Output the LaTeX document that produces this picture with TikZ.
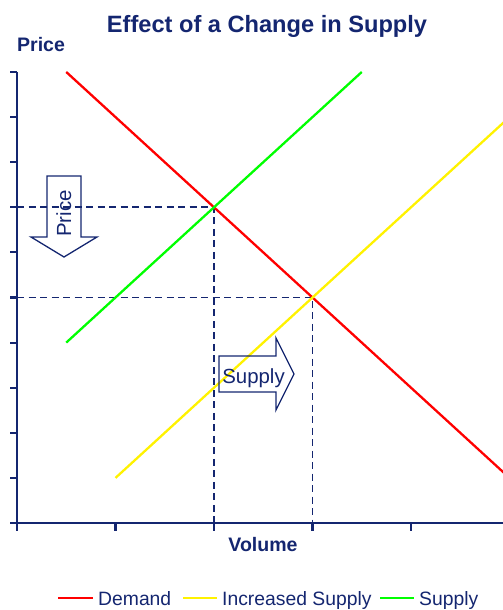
\documentclass[tikz,border=0pt]{standalone}
\usepackage{fontspec}
\setmainfont{Liberation Sans}
\usetikzlibrary{positioning}
\definecolor{navy}{RGB}{20,38,112}
\tikzset{
  axisln/.style={draw=navy, line width=2.4bp},
  tck/.style={draw=navy, line width=2.2bp},
  guide/.style={draw=navy, line width=1.9bp, dash pattern=on 7bp off 4.5bp},
  dem/.style={draw=red, line width=2.3bp},
  sup/.style={draw=green, line width=2.3bp},
  incsup/.style={draw=yellow, line width=2.3bp},
  blk/.style={draw=navy, line width=1.3bp, line join=miter},
  ttl/.style={text=navy, inner sep=0pt, font=\fontsize{23.7}{28}\selectfont\bfseries},
  axlab/.style={text=navy, inner sep=0pt, font=\fontsize{19.6}{24}\selectfont\bfseries},
  leg/.style={text=navy, inner sep=0pt, font=\fontsize{19.4}{24}\selectfont},
  inlab/.style={text=navy, inner sep=0pt, font=\fontsize{20.5}{24}\selectfont},
}
\begin{document}
\begin{tikzpicture}[x=1bp, y=-1bp]
  \useasboundingbox (0,0) rectangle (503,610);
  % plot area: one unit per tick
  \begin{scope}[shift={(17,523)}, x=98.5bp, y=45.1bp]
    % equilibrium points
    \coordinate (eq0) at (2,7);
    \coordinate (eq1) at (3,5);
    % guide lines to the axes
    \draw[guide] (0,7) -- (eq0) -- (2,0);
    \draw[guide] (0,5) -- (eq1) -- (3,0);
    % curves
    \draw[dem] (0.5,10) -- (eq0) -- (eq1) -- (5,1);
    \draw[sup] (0.5,4) -- (eq0) -- (3.5,10);
    \draw[incsup] (1,1) -- (eq1) -- (5,9);
    % axes and ticks
    \draw[axisln] (0,0) -- (0,10);
    \draw[axisln] (-0.071,0) -- (5,0);
    \foreach \k in {0,...,10} \draw[tck] (0,\k) -- ++(-0.071,0);
    \foreach \k in {0,...,4} \draw[tck] (\k,0) -- ++(0,-0.177);
  \end{scope}
  % block arrows
  \draw[blk] (47,176) -- (81,176) -- (81,237) -- (97,237) -- (64,257)
             -- (31,237) -- (47,237) -- cycle;
  \node[inlab, rotate=90, anchor=base west] (pricelab) at (71,237) {Price};
  \draw[blk] (219,356) -- (276,356) -- (276,338) -- (294,374) -- (276,410)
             -- (276,392) -- (219,392) -- cycle;
  \node[inlab, anchor=base] (supplylab) at (253.5,383) {Supply};
  % titles
  \node[ttl, anchor=base] (title) at (267,33) {Effect of a Change in Supply};
  \node[axlab, anchor=base west] (ylab) at (17,52) {Price};
  \node[axlab, anchor=base] (xlab) at (263,551) {Volume};
  % legend
  \draw[dem] (58,598) -- (93,598);
  \node[leg, anchor=base west] (lgdem) at (98,605) {Demand};
  \draw[incsup] (183,598) -- (217,598);
  \node[leg, anchor=base west] (lginc) at (222,605) {Increased Supply};
  \draw[sup] (380,598) -- (414,598);
  \node[leg, anchor=base west] (lgsup) at (419,605) {Supply};
\end{tikzpicture}
\end{document}
